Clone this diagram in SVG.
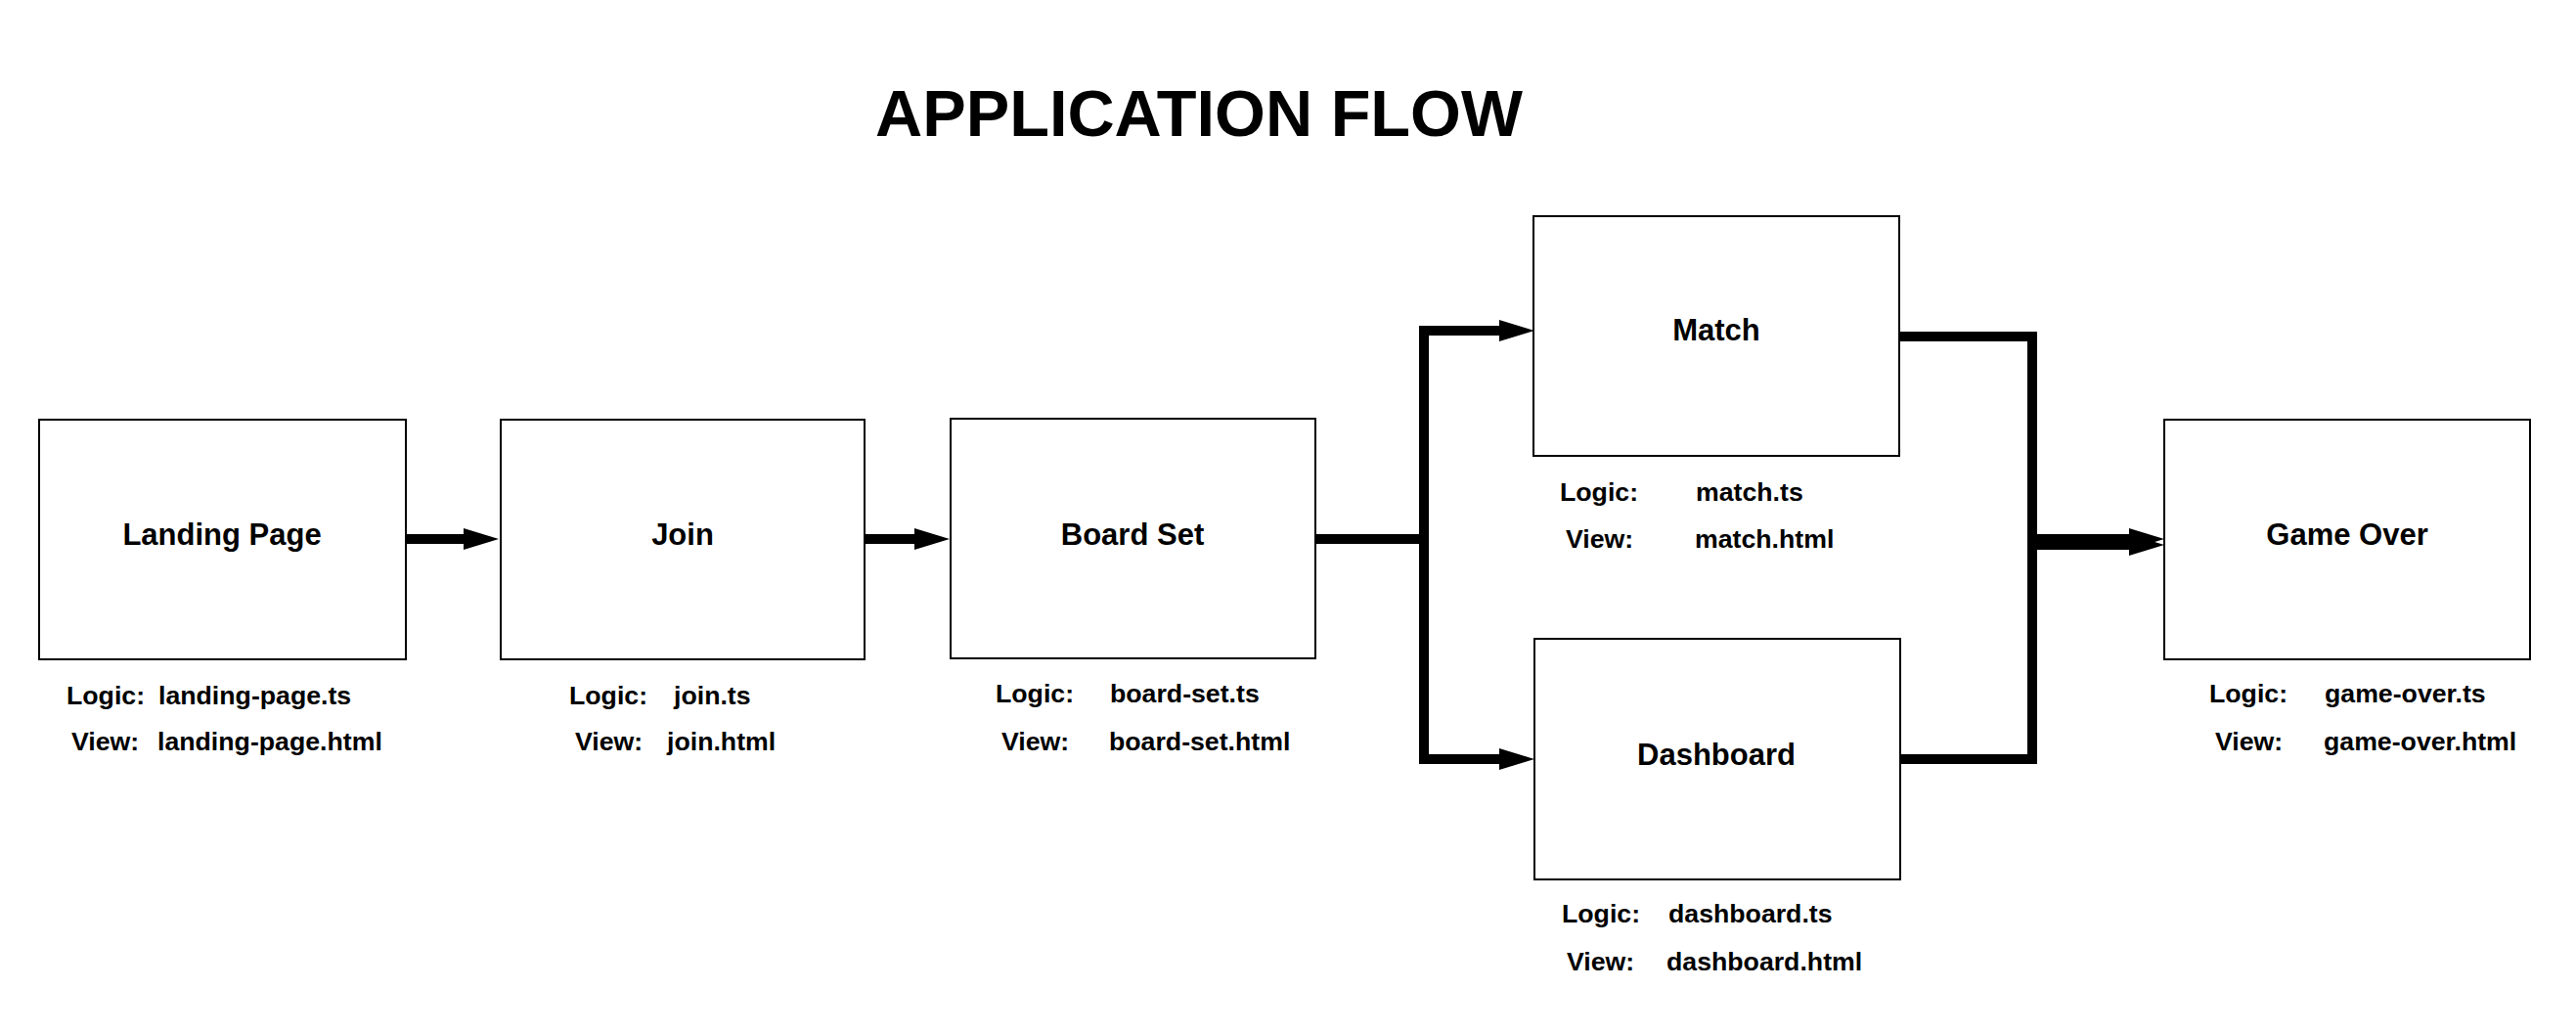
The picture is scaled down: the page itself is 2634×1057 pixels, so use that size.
<svg xmlns="http://www.w3.org/2000/svg" width="2634" height="1057" viewBox="0 0 2634 1057">
<style>
text{font-family:"Liberation Sans",Arial,sans-serif;font-weight:bold;fill:#000}
.title{font-size:66.7px;text-anchor:middle}
.name{font-size:31px;text-anchor:middle}
.lbl{font-size:26.7px}
.box{fill:#fff;stroke:#000;stroke-width:2}
.conn{fill:none;stroke:#000;stroke-width:10;stroke-linejoin:miter}
</style>
<defs>
<marker id="ah" markerUnits="userSpaceOnUse" markerWidth="37" markerHeight="23" refX="0" refY="11" orient="auto">
<path d="M0,0 L36,11 L0,22 Z" fill="#000"/>
</marker>
</defs>
<rect width="2634" height="1057" fill="#fff"/>
<text class="title" x="1226" y="139">APPLICATION FLOW</text>
<g id="connectors">
<path class="conn" d="M415,551 H474" marker-end="url(#ah)"/>
<path class="conn" d="M884,551 H935" marker-end="url(#ah)"/>
<path class="conn" d="M1345,551 H1456 V338 H1533" marker-end="url(#ah)"/>
<path class="conn" d="M1345,551 H1456 V776 H1533" marker-end="url(#ah)"/>
<path class="conn" d="M1942,344 H2078 V551 H2177" marker-end="url(#ah)"/>
<path class="conn" d="M1943,776 H2078 V557 H2177" marker-end="url(#ah)"/>
</g>
<g id="landing-page">
<rect class="box" x="40" y="429" width="375" height="245"/>
<text class="name" x="227" y="557">Landing Page</text>
<text class="lbl" x="68" y="720">Logic:</text>
<text class="lbl" x="162" y="720">landing-page.ts</text>
<text class="lbl" x="73" y="767">View:</text>
<text class="lbl" x="161" y="767">landing-page.html</text>
</g>
<g id="join">
<rect class="box" x="512" y="429" width="372" height="245"/>
<text class="name" x="698" y="557">Join</text>
<text class="lbl" x="582" y="720">Logic:</text>
<text class="lbl" x="689" y="720">join.ts</text>
<text class="lbl" x="588" y="767">View:</text>
<text class="lbl" x="682" y="767">join.html</text>
</g>
<g id="board-set">
<rect class="box" x="972" y="428" width="373" height="245"/>
<text class="name" x="1158" y="557">Board Set</text>
<text class="lbl" x="1018" y="718">Logic:</text>
<text class="lbl" x="1135" y="718">board-set.ts</text>
<text class="lbl" x="1024" y="767">View:</text>
<text class="lbl" x="1134" y="767">board-set.html</text>
</g>
<g id="match">
<rect class="box" x="1568" y="221" width="374" height="245"/>
<text class="name" x="1755" y="348">Match</text>
<text class="lbl" x="1595" y="512">Logic:</text>
<text class="lbl" x="1734" y="512">match.ts</text>
<text class="lbl" x="1601" y="560">View:</text>
<text class="lbl" x="1733" y="560">match.html</text>
</g>
<g id="dashboard">
<rect class="box" x="1569" y="653" width="374" height="246"/>
<text class="name" x="1755" y="782">Dashboard</text>
<text class="lbl" x="1597" y="943">Logic:</text>
<text class="lbl" x="1706" y="943">dashboard.ts</text>
<text class="lbl" x="1602" y="992">View:</text>
<text class="lbl" x="1704" y="992">dashboard.html</text>
</g>
<g id="game-over">
<rect class="box" x="2213" y="429" width="374" height="245"/>
<text class="name" x="2400" y="557">Game Over</text>
<text class="lbl" x="2259" y="718">Logic:</text>
<text class="lbl" x="2377" y="718">game-over.ts</text>
<text class="lbl" x="2265" y="767">View:</text>
<text class="lbl" x="2376" y="767">game-over.html</text>
</g>
</svg>
